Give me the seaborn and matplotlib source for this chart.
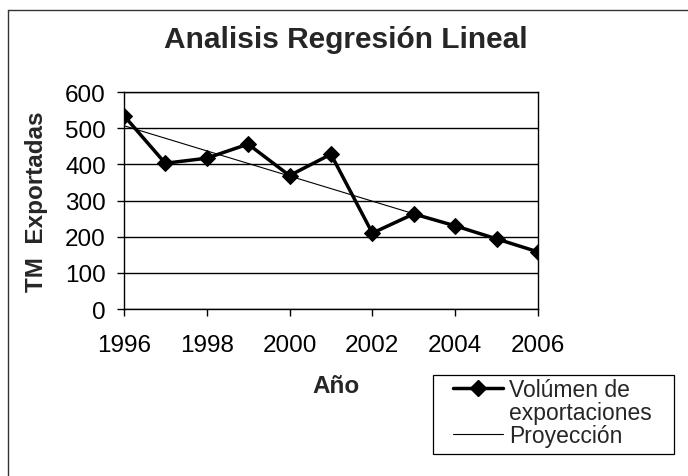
import numpy as np
import pandas as pd
import matplotlib
matplotlib.use("Agg")
import matplotlib.pyplot as plt
from matplotlib.lines import Line2D
from matplotlib.patches import Rectangle
import seaborn as sns

# =========================
# Data
# =========================
years = [1996, 1997, 1998, 1999, 2000, 2001, 2002, 2003, 2004, 2005, 2006]
volumen = [535, 403, 417, 456, 369, 428, 210, 263, 230, 194, 158]
y_ticks = [0, 100, 200, 300, 400, 500, 600]
x_ticks = [1996, 1998, 2000, 2002, 2004, 2006]

df = pd.DataFrame({"Año": years, "Volumen": volumen})

# linear projection (least squares on the series)
coef = np.polyfit(df["Año"], df["Volumen"], 1)
df["Proyeccion"] = np.polyval(coef, df["Año"])

sns.set_theme(style="white")
plt.rcParams["font.family"] = ["Liberation Sans", "DejaVu Sans"]

fig = plt.figure(figsize=(6.88, 4.77), dpi=100)
ax = fig.add_axes([0.180, 0.350, 0.602, 0.455])

# gridlines first so the lines sit on top
for v in y_ticks:
    ax.axhline(v, color="black", lw=1.0, zorder=0)

sns.lineplot(data=df, x="Año", y="Proyeccion", ax=ax, color="black", lw=0.8)
sns.lineplot(data=df, x="Año", y="Volumen", ax=ax, color="black", lw=2.5,
             marker="D", markersize=8, markeredgecolor="black")

ax.set_xlim(1996, 2006)
ax.set_ylim(0, 600)
ax.set_xticks(x_ticks)
ax.set_yticks(y_ticks)
for s in ax.spines.values():
    s.set_color("black")
    s.set_linewidth(1.0)

ax.tick_params(axis="x", direction="out", length=5, width=1, pad=13,
               labelsize=17.5, colors="black", bottom=True)
ax.tick_params(axis="y", direction="out", length=5, width=1, pad=8,
               labelsize=17.5, colors="black", left=True)

ax.set_xlabel("Año", fontsize=17.5, fontweight="bold")
ax.set_ylabel("TM  Exportadas", fontsize=17.5, fontweight="bold")
ax.xaxis.set_label_coords(0.512, -0.30)
ax.yaxis.set_label_coords(-0.184, 0.5)

fig.suptitle("Analisis Regresión Lineal", x=0.502, y=0.916, va="center",
             fontsize=21.5, fontweight="bold")

# legend (frame drawn separately to match the reference box)
h1 = Line2D([], [], color="black", lw=2.5, marker="D", markersize=8)
h2 = Line2D([], [], color="none")
h3 = Line2D([], [], color="black", lw=0.8)
fig.legend([h1, h2, h3], ["Volúmen de", "exportaciones", "Proyección"],
           loc="upper left", bbox_to_anchor=(453 / 688, 1 - 379 / 477),
           frameon=False, fontsize=16.5, handlelength=2.2,
           handletextpad=0.25, labelspacing=0.0, borderpad=0,
           borderaxespad=0)
fig.add_artist(Rectangle((433 / 688, 1 - 455 / 477), 241 / 688, 79 / 477,
                         transform=fig.transFigure, fill=False,
                         edgecolor="black", lw=0.9))

# outer chart border (left and top edges visible in the scan)
fig.add_artist(Line2D([8 / 688, 8 / 688], [0, 1 - 11 / 477],
                      transform=fig.transFigure, color="#333333", lw=1))
fig.add_artist(Line2D([8 / 688, 1], [1 - 11 / 477, 1 - 11 / 477],
                      transform=fig.transFigure, color="#333333", lw=1))

fig.savefig("out.png", dpi=100)
